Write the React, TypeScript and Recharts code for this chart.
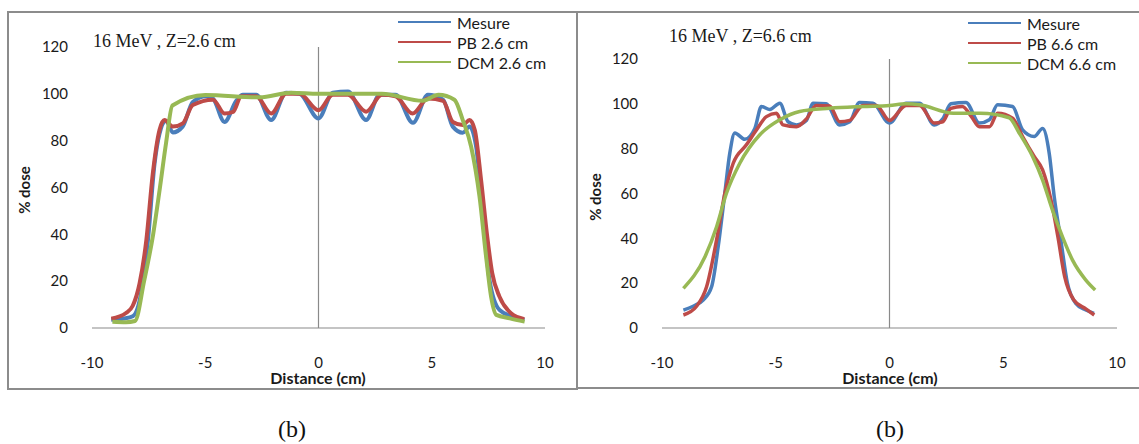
import React from "react";
import { LineChart, Line, XAxis, YAxis, ReferenceLine, Legend } from "recharts";

// dose profiles, [distance cm, % dose]
const leftMesure: [number, number][] = [
  [-9.15, 3.5], [-8.6, 4], [-8.2, 5], [-7.83, 15], [-7.53, 37.6], [-7.24, 70], [-7.02, 83],
  [-6.73, 88.5], [-6.43, 83.5], [-6.0, 86], [-5.55, 96.5], [-4.96, 99], [-4.66, 98],
  [-4.15, 88], [-3.63, 97], [-3.34, 99.6], [-2.75, 99.6], [-2.09, 88.8], [-1.43, 100.5],
  [-0.84, 100], [0, 89.5], [0.63, 100.5], [1.3, 101], [2.1, 88.8], [2.7, 99.6], [3.4, 99.6],
  [4.17, 87.6], [4.83, 99.6], [5.5, 97.5], [5.93, 86], [6.37, 83.4], [6.67, 86], [6.96, 77.4],
  [7.25, 49], [7.55, 20.5], [7.99, 7.7], [8.58, 4.8], [9.09, 3.4],
];
const leftPB: [number, number][] = [
  [-9.15, 4], [-8.5, 6.4], [-8.2, 9.5], [-7.9, 19], [-7.6, 37.6], [-7.32, 65.6], [-7.02, 84.6],
  [-6.8, 88.8], [-6.43, 86], [-5.99, 87.4], [-5.55, 95.2], [-4.66, 97.5], [-4.15, 91.6],
  [-3.77, 92.3], [-3.41, 99], [-2.75, 99], [-2.09, 91.6], [-1.43, 100], [-0.84, 100], [0, 93],
  [0.63, 99.6], [1.3, 99.6], [2.1, 92.4], [2.8, 99.6], [3.4, 99], [4.15, 91.6], [4.83, 98],
  [5.5, 97], [5.93, 88], [6.37, 86.7], [6.67, 88.8], [6.9, 84.6], [7.18, 63], [7.45, 39],
  [7.67, 23.4], [7.99, 13.4], [8.5, 6.3], [9.09, 3.8],
];
const leftDCM: [number, number][] = [
  [-9.1, 2.7], [-8.5, 2.5], [-8.1, 3], [-7.7, 20], [-7.3, 40], [-7.0, 60], [-6.73, 79],
  [-6.45, 95], [-5.0, 99.5], [-2.6, 98.5], [-1.2, 100.5], [0, 100], [1.5, 100], [2.8, 100],
  [4.6, 97], [5.3, 99.6], [6.0, 97.5], [6.37, 88.8], [6.74, 77.4], [7.11, 56], [7.4, 30.4],
  [7.62, 13.4], [7.85, 5.6], [8.45, 4.1], [9.1, 2.7],
];

const rightMesure: [number, number][] = [
  [-9.06, 8], [-8.63, 9.7], [-8.19, 12.5], [-7.82, 18.4], [-7.53, 36.3], [-7.24, 60], [-7.02, 78],
  [-6.8, 87], [-6.36, 84.2], [-5.92, 89], [-5.63, 98.8], [-5.26, 97.5], [-4.82, 100.3],
  [-4.46, 92], [-4.09, 90.6], [-3.65, 92.6], [-3.36, 100.3], [-2.78, 100], [-2.19, 90.6],
  [-1.75, 92], [-1.32, 100.6], [-0.73, 100.3], [0, 91.4], [0.73, 100.3], [1.32, 100.3],
  [1.97, 90.6], [2.34, 93.3], [2.7, 100], [3.36, 100.6], [3.95, 91.4], [4.39, 92.9], [4.75, 99.6],
  [5.41, 98.8], [5.85, 88.4], [6.36, 85.4], [6.73, 89], [7.02, 78], [7.24, 58.6], [7.53, 39.3],
  [7.82, 20], [8.19, 11], [8.63, 8], [8.99, 6.5],
];
const rightPB: [number, number][] = [
  [-9.06, 5.8], [-8.48, 9.7], [-8.04, 18.4], [-7.6, 39.3], [-7.24, 60], [-6.87, 73.5],
  [-6.29, 81.7], [-5.85, 88.3], [-5.41, 94.3], [-4.97, 95.8], [-4.68, 90.6], [-4.09, 89.8],
  [-3.65, 93.3], [-3.22, 99.3], [-2.63, 99], [-2.19, 92], [-1.75, 92.6], [-1.17, 99.3],
  [-0.58, 99.3], [0, 92.6], [0.73, 99.3], [1.32, 99.3], [1.97, 91.4], [2.34, 92], [2.7, 98],
  [3.2, 98.8], [3.6, 94.3], [3.95, 89.8], [4.4, 89.8], [4.75, 95.8], [5.41, 93.6], [5.85, 85.4],
  [6.36, 76.5], [6.73, 70.5], [7.1, 57], [7.4, 40.8], [7.7, 22.9], [8.1, 12.5], [8.63, 8.5],
  [9.0, 5.8],
];
const rightDCM: [number, number][] = [
  [-9.06, 17.7], [-8.11, 31.8], [-7.6, 45.2], [-7.17, 60], [-6.58, 73.5], [-5.7, 86.2],
  [-4.82, 92.9], [-3.95, 96.6], [-2.63, 98], [-1.17, 98.8], [0, 99.3], [0.73, 100], [1.32, 99.6],
  [2.8, 95.8], [4.0, 95.8], [5.26, 93.8], [5.7, 87], [6.29, 76.5], [6.73, 66], [7.16, 52.7],
  [7.6, 40.8], [8.04, 30.4], [8.63, 21.4], [9.04, 17],
];

const xTicks = [-10, -5, 0, 5, 10];
const yTicks = [0, 20, 40, 60, 80, 100, 120];

const BLUE = "#4a7ebb";
const RED = "#be4b48";
const GREEN = "#98b954";
const SANS = "Lato, 'Open Sans', sans-serif";
const SERIF = "'Liberation Serif', 'Times New Roman', serif";

const toRows = (pts: [number, number][]) => pts.map(([x, y]) => ({ x, y }));

// legend keeps the series order (Mesure, PB, DCM) instead of sorting by name
const seriesRank = (name: string) => (name.startsWith("Mesure") ? 0 : name.startsWith("PB") ? 1 : 2);

const renderLegend = (props: any) => {
  const items = [...(props.payload || [])].sort((a: any, b: any) => seriesRank(a.value) - seriesRank(b.value));
  return (
    <div>
      {items.map((p: any) => (
        <div key={p.value} style={{ display: "flex", alignItems: "center", height: 20 }}>
          <span style={{ display: "inline-block", width: 53, height: 2.5, background: p.color, marginRight: 6 }} />
          <span style={{ fontFamily: SANS, fontSize: 16, color: "#1a1a1a", whiteSpace: "nowrap" }}>{p.value}</span>
        </div>
      ))}
    </div>
  );
};

interface PanelProps {
  left: number;
  top: number;
  width: number;
  height: number;
  margin: { top: number; right: number; bottom: number; left: number };
  yWidth: number;
  label: string;
  title: string;
  titleX: number;
  titleY: number;
  legendX: number;
  legendY: number;
  mesure: [number, number][];
  pb: [number, number][];
  dcm: [number, number][];
  yTitleX: number;
  yTitleY: number;
  xTitleX: number;
  lineWidth: number;
}

function Panel(p: PanelProps) {
  return (
    <div style={{ position: "absolute", left: p.left, top: p.top, width: p.width, height: p.height }}>
      <LineChart width={p.width} height={p.height} margin={p.margin}>
        <XAxis
          type="number"
          dataKey="x"
          domain={[-10, 10]}
          ticks={xTicks}
          tickLine={false}
          tickSize={0}
          tickMargin={29}
          height={50}
          axisLine={{ stroke: "#8a8a8a", strokeWidth: 1.2 }}
          tick={{ fill: "#1a1a1a", fontSize: 15, fontFamily: SANS }}
        />
        <YAxis
          type="number"
          domain={[0, 120]}
          ticks={yTicks}
          width={p.yWidth}
          axisLine={false}
          tickLine={false}
          tickSize={0}
          tickMargin={24}
          tick={{ fill: "#1a1a1a", fontSize: 15, fontFamily: SANS }}
        />
        <ReferenceLine x={0} stroke="#8a8a8a" strokeWidth={1.2} />
        <Legend
          layout="vertical"
          align="center"
          verticalAlign="middle"
          content={renderLegend}
          wrapperStyle={{ left: p.legendX, top: p.legendY, width: 180 }}
        />
        <Line data={toRows(p.mesure)} dataKey="y" name="Mesure" type="monotone" stroke={BLUE} strokeWidth={p.lineWidth} dot={false} isAnimationActive={false} />
        <Line data={toRows(p.pb)} dataKey="y" name={`PB ${p.label}`} type="monotone" stroke={RED} strokeWidth={p.lineWidth} dot={false} isAnimationActive={false} />
        <Line data={toRows(p.dcm)} dataKey="y" name={`DCM ${p.label}`} type="monotone" stroke={GREEN} strokeWidth={p.lineWidth} dot={false} isAnimationActive={false} />
      </LineChart>
      <div style={{ position: "absolute", left: p.titleX, top: p.titleY, fontFamily: SERIF, fontSize: 18, color: "#1a1a1a", whiteSpace: "nowrap" }}>
        {p.title}
      </div>
      <div
        style={{
          position: "absolute", left: p.yTitleX, top: p.yTitleY, transform: "translate(-50%, -50%) rotate(-90deg)",
          fontFamily: SANS, fontSize: 15, fontWeight: 700, color: "#1a1a1a", whiteSpace: "nowrap",
        }}
      >
        % dose
      </div>
      <div
        style={{
          position: "absolute", left: p.xTitleX, top: 366, transform: "translate(-50%, -50%)",
          fontFamily: SANS, fontSize: 16, fontWeight: 700, color: "#1a1a1a", whiteSpace: "nowrap",
        }}
      >
        Distance (cm)
      </div>
      <div style={{ position: "absolute", left: 0, top: 0, width: p.width, height: p.height, boxSizing: "border-box", border: "2px solid #8c8c8c", pointerEvents: "none" }} />
    </div>
  );
}

export default function App() {
  return (
    <div style={{ position: "absolute", left: 0, top: 0, width: 1139, height: 444, background: "#fff", overflow: "hidden" }}>
      <Panel
        left={7}
        top={11}
        width={571}
        height={379}
        margin={{ top: 36, right: 33, bottom: 12, left: 0 }}
        yWidth={85}
        label="2.6 cm"
        title="16 MeV , Z=2.6 cm"
        titleX={86}
        titleY={20}
        legendX={391}
        legendY={1}
        mesure={leftMesure}
        pb={leftPB}
        dcm={leftDCM}
        yTitleX={17}
        yTitleY={179}
        xTitleX={311}
        lineWidth={4}
      />
      <Panel
        left={576}
        top={11}
        width={575}
        height={378}
        margin={{ top: 48, right: 34, bottom: 11, left: 0 }}
        yWidth={86}
        label="6.6 cm"
        title="16 MeV , Z=6.6 cm"
        titleX={93}
        titleY={15}
        legendX={392}
        legendY={2}
        mesure={rightMesure}
        pb={rightPB}
        dcm={rightDCM}
        yTitleX={19}
        yTitleY={186}
        xTitleX={314}
        lineWidth={3.5}
      />
      <div style={{ position: "absolute", left: 292, top: 429, transform: "translate(-50%, -50%)", fontFamily: SERIF, fontSize: 24, color: "#111" }}>
        (b)
      </div>
      <div style={{ position: "absolute", left: 890, top: 429, transform: "translate(-50%, -50%)", fontFamily: SERIF, fontSize: 24, color: "#111" }}>
        (b)
      </div>
    </div>
  );
}
